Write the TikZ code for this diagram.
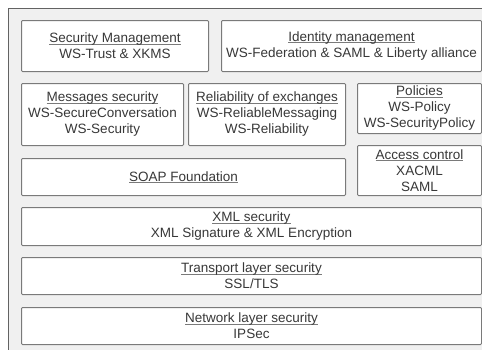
\documentclass[tikz,border=0pt]{standalone}
\usepackage{fontspec}
\setmainfont{Liberation Sans}
\usepackage{xcolor}
\usetikzlibrary{positioning}
\definecolor{framegray}{HTML}{F0F0F0}
\definecolor{linegray}{HTML}{7A7A7A}
\definecolor{textgray}{HTML}{383838}
\newcommand{\layertitle}[1]{\setbox0\hbox{#1}\rlap{\color{linegray}\rule[-1.6pt]{\wd0}{0.7pt}}\box0}

\begin{document}
\begin{tikzpicture}[
    x=1pt, y=-1pt,
    layer/.style={draw=linegray, line width=1pt, fill=white, rounded corners=1pt, anchor=north west,
        align=center, inner sep=0pt, text=textgray, font=\fontsize{13.5}{16}\selectfont}
]
    \useasboundingbox (0,0) rectangle (482,349);
    \clip (0,0) rectangle (482,349);

    % Outer frame (cut off at right and bottom)
    \draw[draw=linegray!80!black, line width=1pt, fill=framegray] (8,8) rectangle (495,360);

    % Top row
    \node [layer, minimum width=187pt, minimum height=51pt] (secmgmt) at (21,20)
        {\layertitle{Security Management}\\WS-Trust \& XKMS};
    \node [layer, minimum width=260pt, minimum height=51pt] (idmgmt) at (221,20)
        {\layertitle{Identity management}\\WS-Federation \& SAML \& Liberty alliance};

    % Second row
    \node [layer, minimum width=162pt, minimum height=62pt] (msgsec) at (21,83)
        {\layertitle{Messages security}\\WS-SecureConversation\\WS-Security};
    \node [layer, minimum width=157pt, minimum height=62pt] (reliab) at (188,83)
        {\layertitle{Reliability of exchanges}\\WS-ReliableMessaging\\WS-Reliability};
    \node [layer, minimum width=124pt, minimum height=50pt] (policies) at (357,83)
        {\layertitle{Policies}\\WS-Policy\\WS-SecurityPolicy};

    % SOAP and access control
    \node [layer, minimum width=324pt, minimum height=37pt] (soap) at (21,158)
        {\layertitle{SOAP Foundation}};
    \node [layer, minimum width=124pt, minimum height=50pt] (access) at (357,145)
        {\layertitle{Access control}\\XACML\\SAML};

    % Full width layers
    \node [layer, minimum width=460pt, minimum height=38pt] (xmlsec) at (21,207)
        {\layertitle{XML security}\\XML Signature \& XML Encryption};
    \node [layer, minimum width=460pt, minimum height=37pt] (transport) at (21,257)
        {\layertitle{Transport layer security}\\SSL/TLS};
    \node [layer, minimum width=460pt, minimum height=37pt] (network) at (21,307)
        {\layertitle{Network layer security}\\IPSec};
\end{tikzpicture}
\end{document}
